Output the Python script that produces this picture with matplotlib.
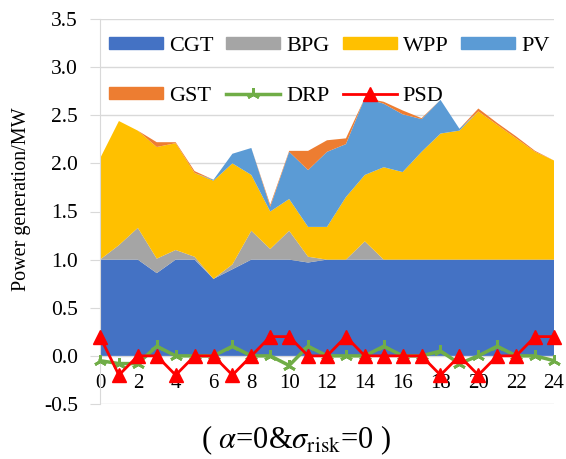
import matplotlib
matplotlib.use("Agg")
import matplotlib.pyplot as plt
from matplotlib.lines import Line2D
from matplotlib.patches import Patch

plt.rcParams['font.family'] = ['Liberation Serif', 'DejaVu Serif']
plt.rcParams['mathtext.fontset'] = 'stix'

hours = list(range(25))
CGT = [1.0, 1.0, 1.0, 0.86, 1.0, 1.0, 0.8, 0.9, 1.0, 1.0, 1.0, 0.97, 1.0, 1.0, 1.0,
       1.0, 1.0, 1.0, 1.0, 1.0, 1.0, 1.0, 1.0, 1.0, 1.0]
BPG = [0.0, 0.15, 0.33, 0.15, 0.1, 0.03, 0.0, 0.05, 0.3, 0.11, 0.3, 0.06, 0.0, 0.0, 0.19,
       0.0, 0.0, 0.0, 0.0, 0.0, 0.0, 0.0, 0.0, 0.0, 0.0]
WPP = [1.05, 1.29, 1.01, 1.16, 1.11, 0.87, 1.02, 1.05, 0.58, 0.39, 0.33, 0.31, 0.34, 0.65, 0.69,
       0.96, 0.91, 1.12, 1.31, 1.34, 1.54, 1.40, 1.26, 1.12, 1.03]
PV = [0.0, 0.0, 0.0, 0.0, 0.0, 0.0, 0.01, 0.10, 0.28, 0.05, 0.49, 0.59, 0.78, 0.55, 0.80,
      0.66, 0.60, 0.34, 0.35, 0.02, 0.0, 0.0, 0.0, 0.0, 0.0]
GST = [0.0, 0.0, 0.0, 0.05, 0.01, 0.02, 0.0, 0.0, 0.0, 0.02, 0.01, 0.20, 0.12, 0.06, 0.0,
       0.02, 0.04, 0.01, 0.0, 0.0, 0.03, 0.02, 0.02, 0.01, 0.0]
DRP = [-0.05, -0.08, -0.08, 0.1, 0.0, 0.0, 0.0, 0.1, 0.0, 0.0, -0.1, 0.1, 0.0, 0.0, 0.0,
       0.1, 0.0, 0.0, 0.05, -0.08, 0.0, 0.1, 0.0, 0.0, -0.05]
PSD = [0.2, -0.2, 0.0, 0.0, -0.2, 0.0, 0.0, -0.2, 0.0, 0.2, 0.2, 0.0, 0.0, 0.2, 0.0,
       0.0, 0.0, 0.0, -0.2, 0.0, -0.2, 0.0, 0.0, 0.2, 0.2]

x_ticks = list(range(0, 25, 2))
y_ticks = [-0.5, 0.0, 0.5, 1.0, 1.5, 2.0, 2.5, 3.0, 3.5]

colors = {'CGT': '#4472C4', 'BPG': '#A5A5A5', 'WPP': '#FFC000',
          'PV': '#5B9BD5', 'GST': '#ED7D31', 'DRP': '#70AD47', 'PSD': '#FF0000'}

W, H = 566, 459
fig = plt.figure(figsize=(W / 100, H / 100), dpi=100)
ax = fig.add_axes([100 / W, 1 - 404 / H, 454 / W, 385 / H])

ax.stackplot(hours, CGT, BPG, WPP, PV, GST,
             colors=[colors[k] for k in ['CGT', 'BPG', 'WPP', 'PV', 'GST']],
             linewidth=0.5, zorder=2)
ax.plot(hours, DRP, color=colors['DRP'], lw=2.5, marker=(3, 2, 0), ms=9,
        mew=2, clip_on=False, zorder=4)
ax.plot(hours, PSD, color=colors['PSD'], lw=2, marker='^', ms=10,
        clip_on=False, zorder=5)

ax.set_xlim(0, 24)
ax.set_ylim(-0.5, 3.5)
ax.set_yticks(y_ticks)
ax.set_yticklabels([f'{v:.1f}' for v in y_ticks])
ax.set_xticks(x_ticks)
ax.set_xticklabels([str(v) for v in x_ticks])
ax.grid(axis='y', color='#D9D9D9', lw=1, zorder=0)
ax.set_axisbelow(True)

for s in ['top', 'right']:
    ax.spines[s].set_visible(False)
ax.spines['left'].set_color('#D9D9D9')
ax.spines['bottom'].set_position(('data', 0))
ax.spines['bottom'].set_visible(False)
ax.tick_params(axis='y', length=7, color='#D9D9D9', pad=9, labelsize=15.5)
ax.tick_params(axis='x', length=0, pad=13, labelsize=15)

fig.text(22 / W, 1 - 199 / H, 'Power generation/MW', rotation=90,
         ha='center', va='center', fontsize=14.5)

handles = [
    Patch(color=colors['CGT'], label='CGT'),
    Patch(color=colors['GST'], label='GST'),
    Patch(color=colors['BPG'], label='BPG'),
    Line2D([], [], color=colors['DRP'], lw=2.5, marker=(3, 2, 0), ms=9, mew=2, label='DRP'),
    Patch(color=colors['WPP'], label='WPP'),
    Line2D([], [], color=colors['PSD'], lw=2, marker='^', ms=10, label='PSD'),
    Patch(color=colors['PV'], label='PV'),
]
fig.legend(handles=handles, ncol=4, loc='upper left',
           bbox_to_anchor=(109 / W, 1 - 37 / H), frameon=False, fontsize=16,
           handlelength=2.43, handleheight=0.45, handletextpad=0.27,
           columnspacing=0.58, labelspacing=1.38, borderpad=0, borderaxespad=0)

fig.text(296 / W, 1 - 440 / H, r'( $\alpha$=0&$\sigma_{\rm risk}$=0 )',
         ha='center', va='center', fontsize=22)

fig.savefig('out.png', dpi=100)
